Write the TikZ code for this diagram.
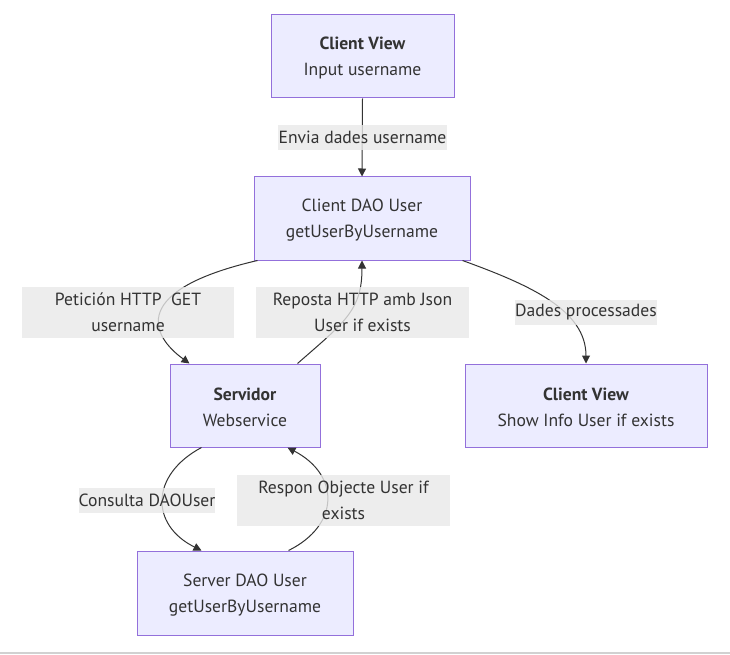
\documentclass[tikz,border=0pt]{standalone}
\usepackage{fontspec}
\setmainfont{PT Sans}
\usetikzlibrary{arrows.meta}
\definecolor{nodefill}{HTML}{ECECFF}
\definecolor{nodeborder}{HTML}{9370DB}
\definecolor{ink}{HTML}{333333}
\definecolor{lblbg}{HTML}{E8E8E8}
\newcommand\firstline{\rule{0pt}{16.5pt}}
\begin{document}
\begin{tikzpicture}[x=1pt,y=-1pt,
  box/.style={draw=nodeborder, fill=nodefill, line width=1pt, align=center, text=ink,
    font=\fontsize{17.6}{26}\selectfont, inner sep=0pt},
  lbl/.style={fill=lblbg, fill opacity=0.8, text opacity=1, text=ink, align=center,
    font=\fontsize{17.6}{26}\selectfont, inner sep=0pt},
  conn/.style={draw=ink, line width=1pt, -{Triangle[length=8pt,width=8pt]}}
]
\useasboundingbox (0,0) rectangle (730,655);
\draw[color=black!18, line width=2pt] (0,653) -- (730,653);

% nodes
\node[box, minimum width=183pt, minimum height=83pt] (A) at (362.5,56.5) {\firstline\textbf{Client View}\\Input username};
\node[box, minimum width=216pt, minimum height=83pt] (B) at (362,218.5) {\firstline Client DAO User\\getUserByUsername};
\node[box, minimum width=150pt, minimum height=83pt] (C) at (245,405.5) {\firstline\textbf{Servidor}\\Webservice};
\node[box, minimum width=242pt, minimum height=83pt] (D) at (586,405.5) {\firstline\textbf{Client View}\\Show Info User if exists};
\node[box, minimum width=216pt, minimum height=84pt] (E) at (245,593) {\firstline Server DAO User\\getUserByUsername};

% connectors
\draw[conn] (A.south) -- (B.north);
\draw[conn] ([xshift=4pt]B.south west) .. controls (130,290) and (150,335) .. ([xshift=20pt]C.north west);
\draw[conn] ([xshift=128pt]C.north west) .. controls (345,322) and (362,310) .. (B.south);
\draw[conn] ([xshift=-8pt]B.south east) .. controls (530,285) and (586,310) .. (D.north);
\draw[conn] ([xshift=32pt]C.south west) .. controls (150,475) and (150,525) .. ([xshift=65pt]E.north west);
\draw[conn] ([xshift=152pt]E.north west) .. controls (340,525) and (340,475) .. ([xshift=118pt]C.south west);

% labels
\node[lbl, minimum width=169pt, minimum height=25pt] (l1) at (362.5,137.5) {Envia dades username};
\node[lbl, minimum width=212pt, minimum height=51pt] (l2) at (128,312.5) {Petición HTTP\ \ GET\\username};
\node[lbl, minimum width=213pt, minimum height=51pt] (l3) at (362.5,312.5) {Reposta HTTP amb Json\\User if exists};
\node[lbl, minimum width=142pt, minimum height=25pt] (l4) at (586,312.5) {Dades processades};
\node[lbl, minimum width=136pt, minimum height=25pt] (l5) at (147,500) {Consulta DAOUser};
\node[lbl, minimum width=213pt, minimum height=51pt] (l6) at (343.5,500) {Respon Objecte User if\\exists};
\end{tikzpicture}
\end{document}
